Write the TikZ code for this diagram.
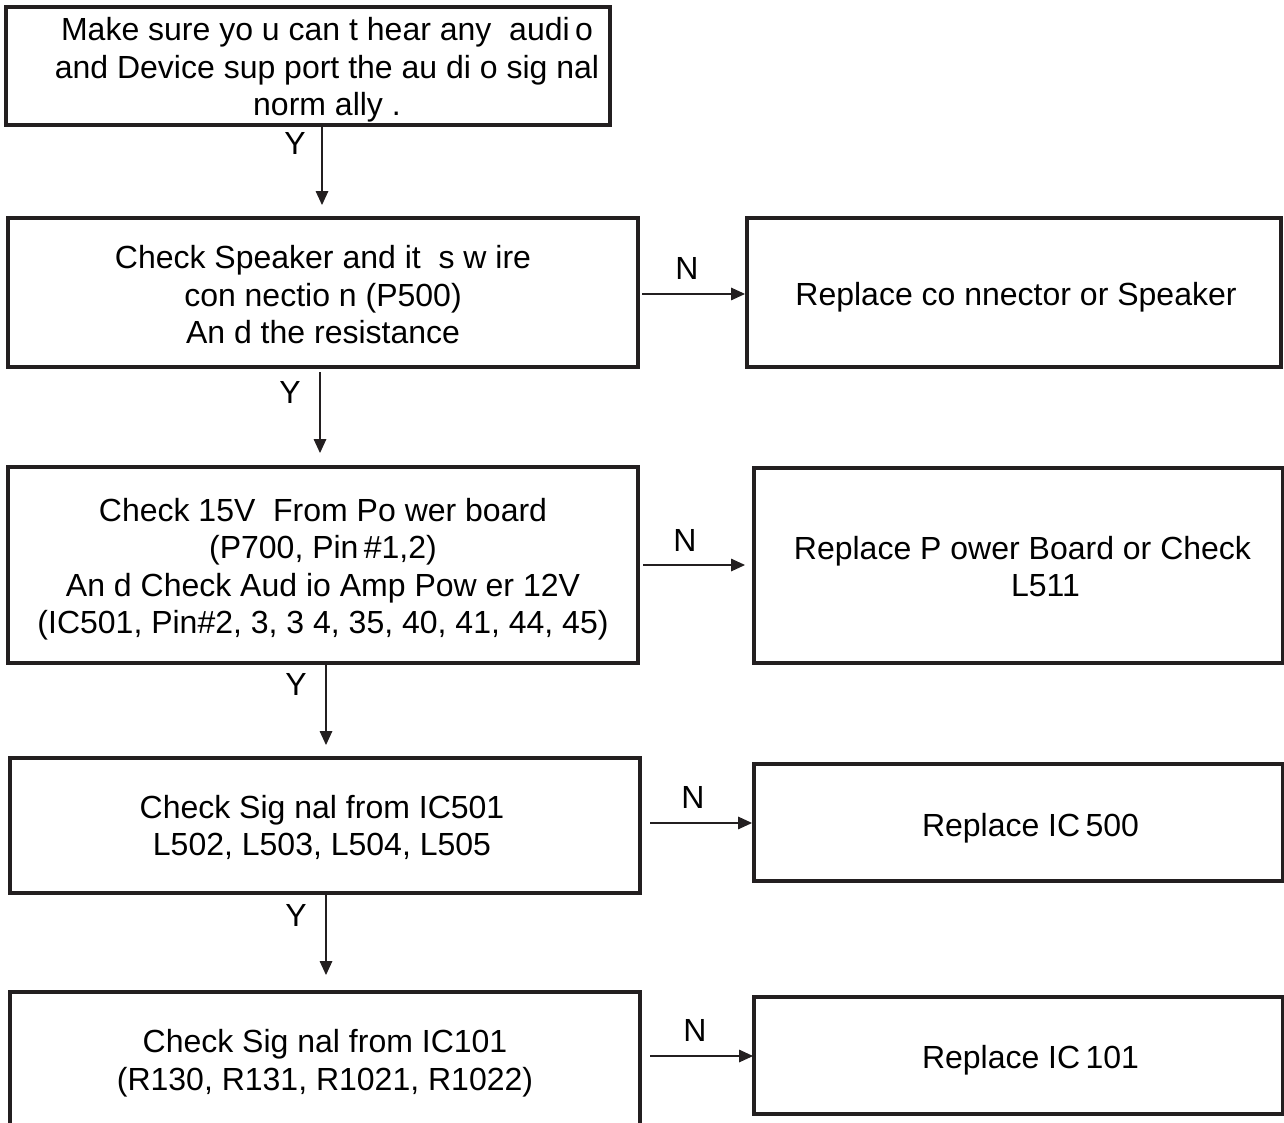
\documentclass[tikz,border=0pt]{standalone}
\usepackage{fontspec}
\setmainfont{Liberation Sans}
\usetikzlibrary{arrows.meta,calc}
\definecolor{ink}{RGB}{35,31,32}
\begin{document}
\begin{tikzpicture}[x=0.75pt,y=-0.75pt,
  box/.style={draw=ink, line width=2.4pt, rectangle, inner sep=0pt, outer sep=0pt},
  txt/.style={inner sep=0pt, align=center, text=black, font=\fontsize{24pt}{28.1pt}\selectfont},
  lbl/.style={inner sep=0pt, text=black, font=\fontsize{24pt}{28pt}\selectfont},
  arr/.style={draw=ink, line width=0.8pt, -{Triangle[length=10.5pt,width=9.5pt]}}]
\useasboundingbox (0,0) rectangle (1284,1122);
\clip (0,0) rectangle (1284,1122);

% left column: checks
\node[box, minimum width=453pt, minimum height=88.5pt] (b1) at (308,66) {};
\node[box, minimum width=472.5pt, minimum height=111.75pt] (b2) at (323,292.5) {};
\node[box, minimum width=472.5pt, minimum height=147pt] (b3) at (323,565) {};
\node[box, minimum width=472.5pt, minimum height=101.25pt] (b4) at (325,825.5) {};
\node[box, minimum width=472.5pt, minimum height=102pt] (b5) at (325,1060) {};

% right column: repairs
\node[box, minimum width=400.5pt, minimum height=111.75pt] (r2) at (1014,292.5) {};
\node[box, minimum width=396.75pt, minimum height=146.25pt] (r3) at (1018.5,565.5) {};
\node[box, minimum width=396.75pt, minimum height=87.75pt] (r4) at (1018.5,822.5) {};
\node[box, minimum width=396.75pt, minimum height=87.75pt] (r5) at (1018.5,1055.5) {};

% box texts
\node[txt] (tb1) at ([shift={(19,4)}]b1.center)
  {Make sure yo u can t hear any\ \ audi\,o\\and\ Device sup port the au di o sig nal\\norm ally .};
\node[txt] (tb2) at ([shift={(0,2.5)}]b2.center)
  {Check Speaker and it\ \ s w ire\\con nectio n (P500)\\An d the resistance};
\node[txt] (tb3) at ([shift={(0,4)}]b3.center)
  {Check 15V\ \ From Po wer board\\(P700, Pin\,\#1,2)\\An d Check Aud io Amp Pow er 12V\\(IC501, Pin\#2, 3, 3 4, 35, 40, 41, 44, 45)};
\node[txt] (tb4) at ([shift={(-3,2)}]b4.center)
  {Check Sig nal from IC501\\L502, L503, L504, L505};
\node[txt] (tb5) at ([shift={(0,3)}]b5.center)
  {Check Sig nal from IC101\\(R130, R131, R1021, R1022)};
\node[txt] (tr2) at ([shift={(2,5)}]r2.center) {Replace co nnector or Speaker};
\node[txt] (tr3) at ([shift={(4,1)}]r3.center) {Replace P ower Board or Check\\\hspace*{34.5pt}L511};
\node[txt] (tr4) at ([shift={(12,6)}]r4.center) {Replace IC\,500};
\node[txt] (tr5) at ([shift={(12,5)}]r5.center) {Replace IC\,101};

% yes branches
\draw[arr, shorten >=9.75pt] ([xshift=10.5pt]b1.south) -- ([xshift=10.5pt]b1.south |- b2.north);
\draw[arr, shorten <=3.75pt, shorten >=10.5pt] ([xshift=-2.25pt]b2.south) -- ([xshift=-2.25pt]b2.south |- b3.north);
\draw[arr, shorten <=0.75pt, shorten >=9.75pt] ([xshift=2.25pt]b3.south) -- ([xshift=2.25pt]b3.south |- b4.north);
\draw[arr, shorten <=1.5pt, shorten >=12.75pt] ([xshift=0.75pt]b4.south) -- ([xshift=0.75pt]b4.south |- b5.north);

% no branches
\draw[arr, shorten <=3pt, shorten >=1.5pt] ([yshift=-1.1pt]b2.east) -- ([yshift=-1.1pt]b2.east -| r2.west);
\draw[arr, shorten <=3.75pt, shorten >=6.75pt] (b3.east) -- (b3.east -| r3.west);
\draw[arr, shorten <=7.5pt, shorten >=1.5pt] ([yshift=1.9pt]b4.east) -- ([yshift=1.9pt]b4.east -| r4.west);
\draw[arr, shorten <=7.5pt, shorten >=0.75pt] ([yshift=3pt]b5.east) -- ([yshift=3pt]b5.east -| r5.west);

% branch labels
\node[lbl] (y1) at (295,143) {Y};
\node[lbl] (y2) at (290,392) {Y};
\node[lbl] (y3) at (296,684) {Y};
\node[lbl] (y4) at (296,915) {Y};
\node[lbl] (n1) at (687,268) {N};
\node[lbl] (n2) at (685,540) {N};
\node[lbl] (n3) at (693,797) {N};
\node[lbl] (n4) at (695,1030) {N};
\end{tikzpicture}
\end{document}
